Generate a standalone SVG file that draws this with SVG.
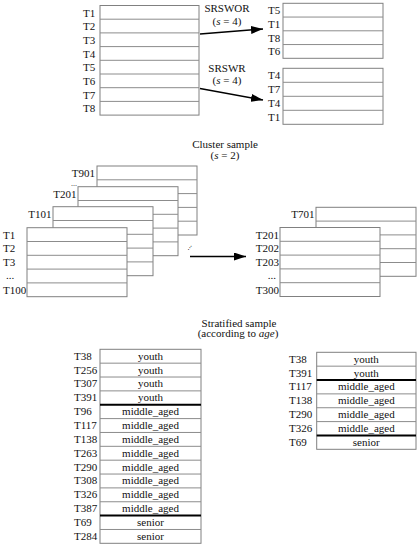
<svg xmlns="http://www.w3.org/2000/svg" width="419" height="546" viewBox="0 0 419 546" font-family="'Liberation Serif', 'Times New Roman', 'DejaVu Serif', serif">
<style>
text{font-family:'Liberation Serif','Times New Roman','DejaVu Serif',serif;font-size:11px;fill:#111}
.box{fill:#fff;stroke:#808080;stroke-width:1}
.row{stroke:#8c8c8c;stroke-width:1}
.thick{stroke:#000;stroke-width:2}
.c{text-anchor:middle}
.e{text-anchor:end}
.arr{stroke:#000;stroke-width:1.6;fill:none}
.dots{font-size:8px}
</style>
<defs>
<marker id="ah" markerUnits="userSpaceOnUse" markerWidth="12" markerHeight="8" refX="12" refY="4" orient="auto">
<path d="M0,0 L12,4 L0,8 z" fill="#000"/>
</marker>
</defs>
<rect width="419" height="546" fill="#fff"/>

<g id="captions">
<text class="c" x="227" y="11.5">SRSWOR</text>
<text class="c" x="227" y="24.5">(<tspan font-style="italic">s</tspan> = 4)</text>
<text class="c" x="227" y="71.5">SRSWR</text>
<text class="c" x="227" y="83.5">(<tspan font-style="italic">s</tspan> = 4)</text>
<text class="c" x="225" y="148">Cluster sample</text>
<text class="c" x="225" y="158.5">(<tspan font-style="italic">s</tspan> = 2)</text>
<text class="c" x="239" y="326.5">Stratified sample</text>
<text class="c" x="238" y="337">(according to <tspan font-style="italic">age</tspan>)</text>
</g>

<g id="population">
<rect class="box" x="100" y="5.5" width="99" height="109.6"/>
<path class="row" d="M100,19.2H199M100,32.9H199M100,46.6H199M100,60.3H199M100,74H199M100,87.7H199M100,101.4H199"/>
<text x="83" y="16.5">T1</text><text x="83" y="30.2">T2</text><text x="83" y="43.9">T3</text><text x="83" y="57.6">T4</text>
<text x="83" y="71.3">T5</text><text x="83" y="85">T6</text><text x="83" y="98.7">T7</text><text x="83" y="112.4">T8</text>
</g>

<g id="srswor">
<rect class="box" x="283" y="3.3" width="100" height="55"/>
<path class="row" d="M283,17.05H383M283,30.8H383M283,44.55H383"/>
<text x="268" y="14">T5</text><text x="268" y="27.8">T1</text><text x="268" y="41.5">T8</text><text x="268" y="55.2">T6</text>
</g>

<g id="srswr">
<rect class="box" x="283" y="68.3" width="100" height="56"/>
<path class="row" d="M283,82.3H383M283,96.3H383M283,110.3H383"/>
<text x="268" y="79">T4</text><text x="268" y="93">T7</text><text x="268" y="107">T4</text><text x="268" y="121">T1</text>
</g>

<g id="cluster-t901">
<rect class="box" x="97" y="166" width="100" height="69"/>
<path class="row" d="M97,179.8H197M97,193.6H197M97,207.4H197M97,221.2H197"/>
<text class="e" x="95" y="176.5">T901</text>
<text class="dots" x="71" y="185.5">...</text>
</g>
<g id="cluster-t201">
<rect class="box" x="78" y="186.7" width="100" height="69"/>
<path class="row" d="M78,200.5H178M78,214.3H178M78,228.1H178M78,241.9H178"/>
<text class="e" x="76.5" y="197.5">T201</text>
</g>
<g id="cluster-t101">
<rect class="box" x="53" y="206.7" width="100" height="69"/>
<path class="row" d="M53,220.5H153M53,234.3H153M53,248.1H153M53,261.9H153"/>
<text class="e" x="51.5" y="217.5">T101</text>
</g>
<g id="cluster-t1">
<rect class="box" x="27" y="227.7" width="100" height="69"/>
<path class="row" d="M27,241.5H127M27,255.3H127M27,269.1H127M27,282.9H127"/>
<text x="3" y="238.5">T1</text><text x="3" y="252.3">T2</text><text x="3" y="266.1">T3</text>
<text x="6" y="279">...</text><text x="3" y="293.7">T100</text>
</g>
<g id="cluster-dots">
<text class="dots" x="185" y="248" transform="rotate(-55 189 246)">...</text>
</g>

<g id="sample-t701">
<rect class="box" x="316" y="207.3" width="100" height="69"/>
<path class="row" d="M316,221.1H416M316,234.9H416M316,248.7H416M316,262.5H416"/>
<text class="e" x="314.5" y="218">T701</text>
</g>
<g id="sample-t201">
<rect class="box" x="280" y="227.5" width="100" height="69"/>
<path class="row" d="M280,241.3H380M280,255.1H380M280,268.9H380M280,282.7H380"/>
<text class="e" x="279" y="238.5">T201</text><text class="e" x="279" y="252.3">T202</text><text class="e" x="279" y="266.1">T203</text>
<text class="e" x="276" y="279">...</text><text class="e" x="279" y="293.5">T300</text>
</g>

<g id="strata-population">
<rect class="box" x="100" y="349.3" width="101" height="194"/>
<path class="row" d="M100,363.16H201M100,377.02H201M100,390.88H201M100,418.6H201M100,432.46H201M100,446.32H201M100,460.18H201M100,474.04H201M100,487.9H201M100,501.76H201M100,529.48H201"/>
<path class="thick" d="M100,404.74H201M100,515.62H201"/>
<text x="74" y="359.6">T38</text><text class="c" x="150.5" y="359.6">youth</text>
<text x="74" y="373.5">T256</text><text class="c" x="150.5" y="373.5">youth</text>
<text x="74" y="387.3">T307</text><text class="c" x="150.5" y="387.3">youth</text>
<text x="74" y="401.2">T391</text><text class="c" x="150.5" y="401.2">youth</text>
<text x="74" y="415">T96</text><text class="c" x="150.5" y="415">middle_aged</text>
<text x="74" y="428.9">T117</text><text class="c" x="150.5" y="428.9">middle_aged</text>
<text x="74" y="442.8">T138</text><text class="c" x="150.5" y="442.8">middle_aged</text>
<text x="74" y="456.6">T263</text><text class="c" x="150.5" y="456.6">middle_aged</text>
<text x="74" y="470.5">T290</text><text class="c" x="150.5" y="470.5">middle_aged</text>
<text x="74" y="484.3">T308</text><text class="c" x="150.5" y="484.3">middle_aged</text>
<text x="74" y="498.2">T326</text><text class="c" x="150.5" y="498.2">middle_aged</text>
<text x="74" y="512">T387</text><text class="c" x="150.5" y="512">middle_aged</text>
<text x="74" y="525.9">T69</text><text class="c" x="150.5" y="525.9">senior</text>
<text x="74" y="539.8">T284</text><text class="c" x="150.5" y="539.8">senior</text>
</g>

<g id="strata-sample">
<rect class="box" x="316.7" y="352.3" width="99.3" height="97"/>
<path class="row" d="M316.7,366.16H416M316.7,393.88H416M316.7,407.74H416M316.7,421.6H416"/>
<path class="thick" d="M316.7,380.02H416M316.7,435.46H416"/>
<text x="289" y="362.6">T38</text><text class="c" x="366.3" y="362.6">youth</text>
<text x="289" y="376.5">T391</text><text class="c" x="366.3" y="376.5">youth</text>
<text x="289" y="390.3">T117</text><text class="c" x="366.3" y="390.3">middle_aged</text>
<text x="289" y="404.2">T138</text><text class="c" x="366.3" y="404.2">middle_aged</text>
<text x="289" y="418">T290</text><text class="c" x="366.3" y="418">middle_aged</text>
<text x="289" y="431.9">T326</text><text class="c" x="366.3" y="431.9">middle_aged</text>
<text x="289" y="445.8">T69</text><text class="c" x="366.3" y="445.8">senior</text>
</g>

<g id="connectors">
<line class="arr" x1="200" y1="34" x2="263" y2="29" marker-end="url(#ah)"/>
<line class="arr" x1="200" y1="88.5" x2="263" y2="100" marker-end="url(#ah)"/>
<line class="arr" x1="190" y1="256.5" x2="246" y2="256.5" marker-end="url(#ah)"/>
</g>
</svg>
